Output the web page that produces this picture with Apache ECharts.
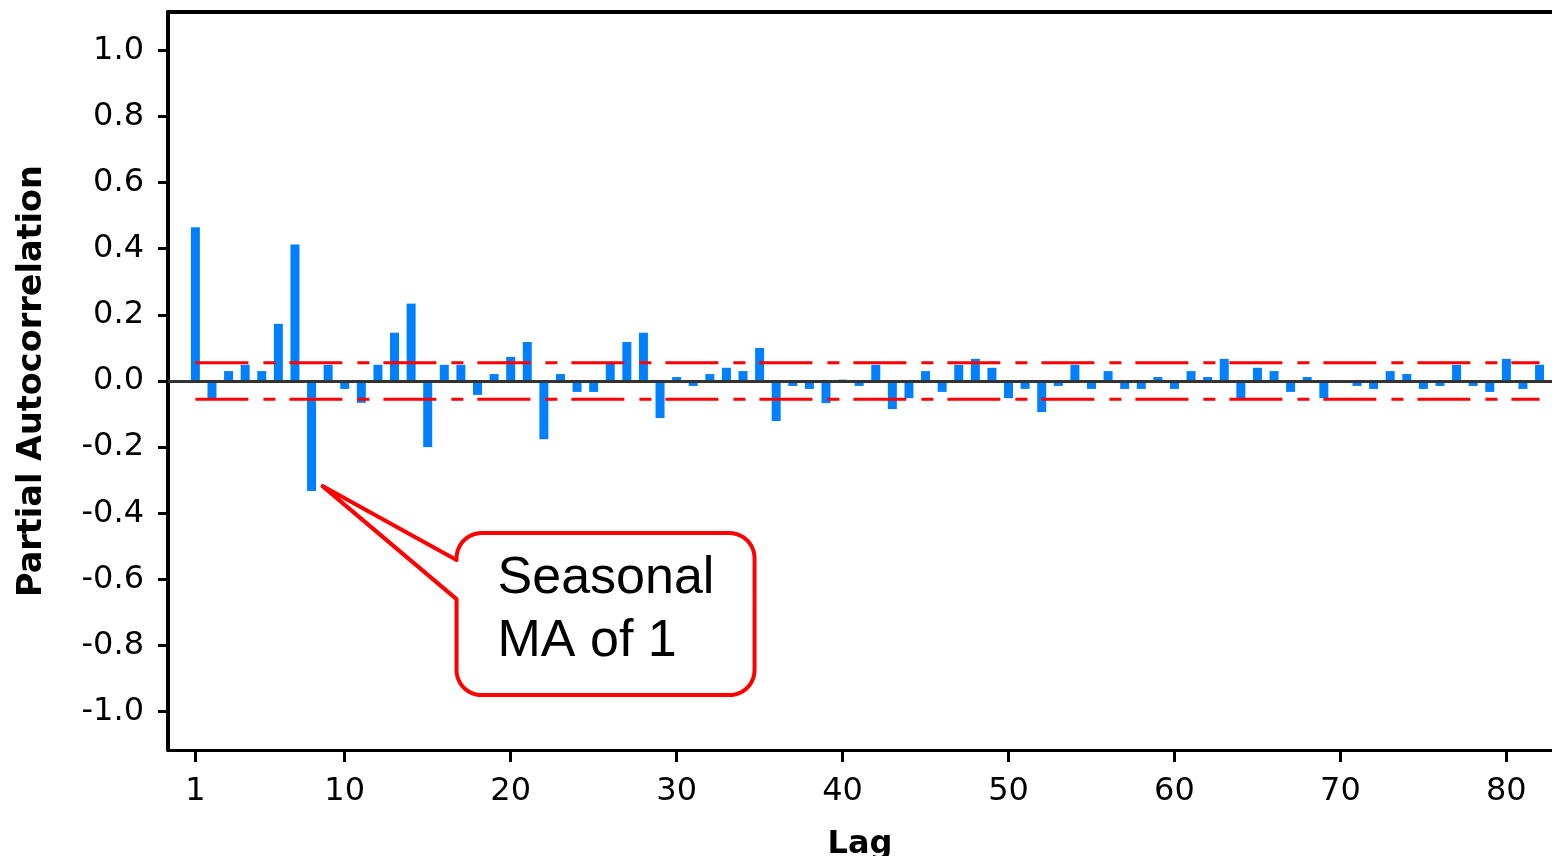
<!DOCTYPE html>
<html><head><meta charset="utf-8">
<script src="https://cdn.jsdelivr.net/npm/echarts@6/dist/echarts.min.js"></script>
<style>html,body{margin:0;padding:0;background:#fff}#c{width:1552px;height:856px}</style>
</head><body><div id="c"></div>
<script>
const lags = [1,2,3,4,5,6,7,8,9,10,11,12,13,14,15,16,17,18,19,20,
  21,22,23,24,25,26,27,28,29,30,31,32,33,34,35,36,37,38,39,40,
  41,42,43,44,45,46,47,48,49,50,51,52,53,54,55,56,57,58,59,60,
  61,62,63,64,65,66,67,68,69,70,71,72,73,74,75,76,77,78,79,80,81,82];
const pacf = [0.465,-0.052,0.030,0.049,0.030,0.173,0.413,-0.333,0.049,-0.024,
  -0.066,0.049,0.146,0.234,-0.200,0.049,0.049,-0.042,0.021,0.073,
  0.118,-0.176,0.021,-0.033,-0.033,0.052,0.118,0.146,-0.112,0.012,
  -0.015,0.021,0.040,0.030,0.100,-0.121,-0.015,-0.024,-0.067,0.004,
  -0.015,0.049,-0.085,-0.052,0.030,-0.033,0.049,0.067,0.040,-0.052,
  -0.024,-0.094,-0.015,0.049,-0.024,0.030,-0.024,-0.024,0.012,-0.024,
  0.030,0.012,0.067,-0.052,0.040,0.030,-0.033,0.012,-0.052,-0.004,
  -0.015,-0.024,0.030,0.021,-0.024,-0.015,0.049,-0.015,-0.033,0.067,-0.024,0.049];
const confBound = 0.055;
const xTicks = [1,10,20,30,40,50,60,70,80];
const yTicks = [-1.0,-0.8,-0.6,-0.4,-0.2,0.0,0.2,0.4,0.6,0.8,1.0];
const annotationLag = 8;
const annotationText = 'Seasonal\nMA of 1';

const chart = echarts.init(document.getElementById('c'), null, {renderer:'canvas'});
const xMin = -0.65, xMax = 82.75;
const tickFont = {fontFamily:'DejaVu Sans', fontSize:32, color:'#000'};
const option = {
  animation:false,
  backgroundColor:'#fff',
  grid:{left:168, right:0, top:12, bottom:106, containLabel:false, outerBoundsMode:'none'},
  xAxis:[{
    type:'value', min:xMin, max:xMax, position:'bottom',
    name:'Lag', nameLocation:'middle', nameGap:79,
    nameTextStyle:{fontFamily:'DejaVu Sans', fontWeight:'bold', fontSize:32, color:'#000'},
    axisLine:{show:true, onZero:false, lineStyle:{color:'#000', width:3}},
    axisTick:{show:true, length:12, lineStyle:{color:'#000', width:3}, customValues:xTicks},
    axisLabel:Object.assign({show:true, margin:26, customValues:xTicks, formatter:v=>String(v)}, tickFont),
    splitLine:{show:false}
  },{
    type:'value', min:xMin, max:xMax, position:'top',
    axisLine:{show:true, onZero:false, lineStyle:{color:'#000', width:4}},
    axisTick:{show:false}, axisLabel:{show:false}, splitLine:{show:false}
  }],
  yAxis:{
    type:'value', min:-1.116, max:1.116,
    name:'Partial Autocorrelation', nameLocation:'middle', nameRotate:90, nameGap:119,
    nameTextStyle:{fontFamily:'DejaVu Sans', fontWeight:'bold', fontSize:33.5, color:'#000'},
    axisLine:{show:true, onZero:false, lineStyle:{color:'#000', width:4}},
    axisTick:{show:true, length:10, lineStyle:{color:'#000', width:3}, customValues:yTicks},
    axisLabel:Object.assign({show:true, margin:24, customValues:yTicks, formatter:v=>v.toFixed(1)}, tickFont),
    splitLine:{show:false}
  },
  series:[
    {type:'line', name:'zero', data:[], z:1, silent:true,
     markLine:{silent:true, symbol:['none','none'], label:{show:false},
       lineStyle:{color:'#333', width:3, type:'solid'}, data:[{yAxis:0}], animation:false}},
    {type:'bar', name:'PACF', data:lags.map((l,i)=>[l,pacf[i]]), barWidth:9,
     itemStyle:{color:'#0080FF'}, z:2, silent:true},
    {type:'line', name:'upper', data:[[lags[0],confBound],[lags[lags.length-1],confBound]],
     symbol:'none', z:3, silent:true,
     lineStyle:{color:'#FF0000', width:3, type:[53,15,12,14]}},
    {type:'line', name:'lower', data:[[lags[0],-confBound],[lags[lags.length-1],-confBound]],
     symbol:'none', z:3, silent:true,
     lineStyle:{color:'#FF0000', width:3, type:[53,15,12,14]}}
  ]
};
chart.setOption(option);

// Callout anchored to the seasonal lag bar
const idx = lags.indexOf(annotationLag);
const p = chart.convertToPixel({xAxisIndex:0, yAxisIndex:0}, [annotationLag, pacf[idx]]);
const tx = p[0] + 11, ty = p[1] - 5;
const L = tx + 134, T = ty + 47, R = L + 298, B = T + 162, r = 25;
const n1 = ty + 74, n2 = ty + 113;
function arc(cx, cy, a0, a1) {
  const pts = [];
  const steps = 12;
  for (let k = 0; k <= steps; k++) {
    const a = a0 + (a1 - a0) * k / steps;
    pts.push([cx + r * Math.cos(a), cy + r * Math.sin(a)]);
  }
  return pts;
}
const PI = Math.PI;
let pts = [[L, n1], [tx, ty], [L, n2]];
pts = pts.concat(arc(L + r, B - r, PI, PI / 2));          // bottom-left
pts = pts.concat(arc(R - r, B - r, PI / 2, 0));           // bottom-right
pts = pts.concat(arc(R - r, T + r, 0, -PI / 2));          // top-right
pts = pts.concat(arc(L + r, T + r, -PI / 2, -PI));        // top-left
chart.setOption({
  graphic:[
    {type:'polygon', shape:{points:pts}, style:{fill:'#fff', stroke:'#FF0000', lineWidth:4, lineJoin:'round'}, z:100, silent:true},
    {type:'text', x:L+41, y:ty+61, z:101, silent:true,
     style:{text:annotationText, fontFamily:'Liberation Sans', fontSize:52, lineHeight:63, fill:'#000', align:'left', verticalAlign:'top'}}
  ]
});
</script>
</body></html>
